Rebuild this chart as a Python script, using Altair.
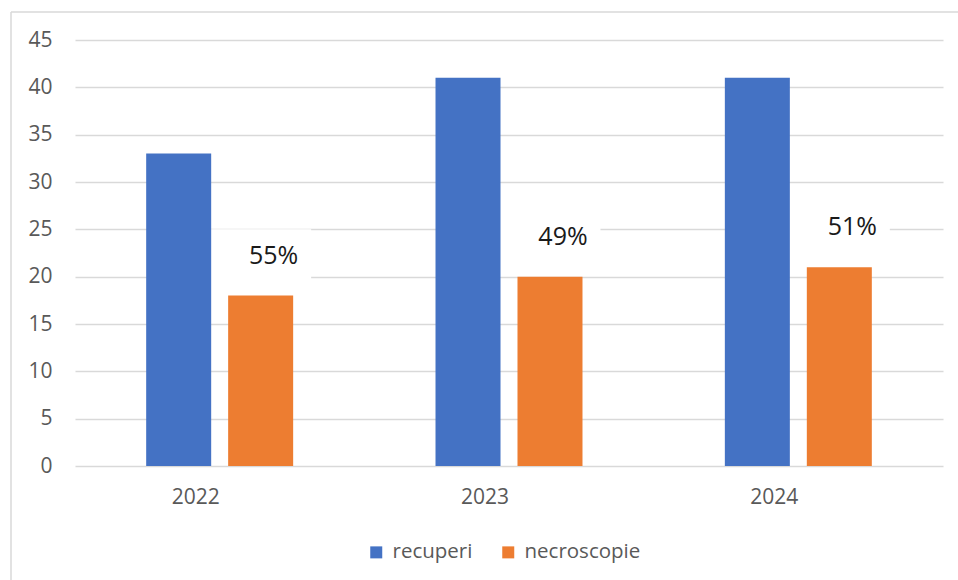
import altair as alt
import pandas as pd

years = ["2022", "2023", "2024"]
series_names = ["recuperi", "necroscopie"]
recuperi = [33, 41, 41]
necroscopie = [18, 20, 21]
percent_labels = ["55%", "49%", "51%"]
colors = ["#4472C4", "#ED7D31"]

rows = []
for i, y in enumerate(years):
    rows.append({"year": y, "series": "recuperi", "value": recuperi[i], "label": ""})
    rows.append({"year": y, "series": "necroscopie", "value": necroscopie[i], "label": percent_labels[i]})
df = pd.DataFrame(rows)

FONT = "Open Sans"
GRAY = "#595959"

x_enc = alt.X("year:N", sort=years,
              scale=alt.Scale(paddingInner=0.492, paddingOuter=0.246),
              axis=alt.Axis(title=None, labelAngle=0, domain=False, ticks=False,
                            labelPadding=31, labelFontSize=21, labelColor=GRAY,
                            labelFont=FONT, grid=False))
xoff_enc = alt.XOffset("series:N", sort=series_names,
                       scale=alt.Scale(domain=series_names, paddingInner=0.207))
y_enc = alt.Y("value:Q",
              scale=alt.Scale(domain=[0, 45], nice=False),
              axis=alt.Axis(title=None, values=list(range(0, 50, 5)), domain=False, ticks=False,
                            labelPadding=23, labelFontSize=21, labelColor=GRAY, labelFont=FONT,
                            grid=True, gridColor="#d9d9d9", gridWidth=1.5))

base = alt.Chart(df)

bars = base.mark_bar().encode(
    x=x_enc,
    xOffset=xoff_enc,
    y=y_enc,
    color=alt.Color("series:N", sort=series_names,
                    scale=alt.Scale(domain=series_names, range=colors),
                    legend=alt.Legend(title=None, orient="none", direction="horizontal",
                                      legendX=291, legendY=502,
                                      symbolType="square", symbolSize=144,
                                      symbolStrokeWidth=0,
                                      labelFontSize=20.5, labelColor=GRAY, labelFont=FONT,
                                      labelOffset=6, columnPadding=25)),
)

lab = base.transform_filter(alt.datum.series == "necroscopie")

boxes = lab.mark_point(
    shape="M-1,-0.52L1,-0.52L1,0.52L-1,0.52Z",
    filled=True, color="white", opacity=1, size=101 * 101,
    xOffset=17, yOffset=-40,
).encode(x=alt.X("year:N", sort=years), xOffset=alt.XOffset("series:N"), y=alt.Y("value:Q"))

texts = lab.mark_text(
    font=FONT, fontSize=25, color="#1a1a1a", dx=13, dy=-40, baseline="middle", align="center",
).encode(x=alt.X("year:N", sort=years), xOffset=alt.XOffset("series:N"), y=alt.Y("value:Q"),
         text="label:N")

border_df = pd.DataFrame({"k": [0]})
border_left = alt.Chart(border_df).mark_rule(color="#d9d9d9", strokeWidth=1.5, clip=False).encode(
    x=alt.value(-64), y=alt.value(-28), y2=alt.value(600))
border_top = alt.Chart(border_df).mark_rule(color="#d9d9d9", strokeWidth=1.5, clip=False).encode(
    x=alt.value(-64), x2=alt.value(900), y=alt.value(-28))

chart = alt.layer(boxes, bars, texts, border_left, border_top).properties(
    width=868, height=426,
    autosize=alt.AutoSizeParams(type="none"),
    padding={"left": 75, "top": 40, "right": 15, "bottom": 114},
    background="white",
).configure_view(strokeWidth=0)

chart.save("out.html", embed_options={"renderer": "svg", "actions": False})
